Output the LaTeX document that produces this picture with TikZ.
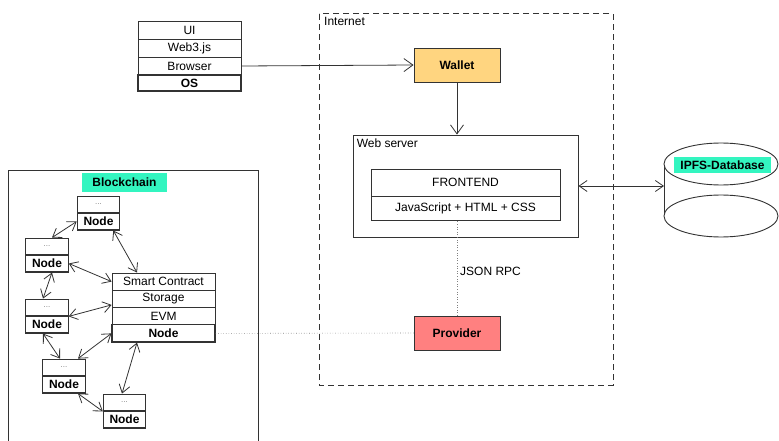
\documentclass[tikz,border=0pt]{standalone}
\usepackage{fontspec}
\setmainfont{Liberation Sans}
\usetikzlibrary{arrows.meta}

\definecolor{edge}{HTML}{333333}
\definecolor{walletfill}{HTML}{FFD580}
\definecolor{providerfill}{HTML}{FF8080}
\definecolor{tagfill}{HTML}{33F5C0}

\tikzset{
  txt/.style={font=\fontsize{12}{14}\selectfont},
  cell/.style={draw=edge, line width=0.8pt, inner sep=0pt, minimum width=103pt, minimum height=18pt, txt},
  cellbold/.style={cell, line width=1.1pt, font=\fontsize{12}{14}\selectfont\bfseries},
  small/.style={cell, minimum width=42.5pt, minimum height=17pt, font=\fontsize{8}{10}\selectfont, text=gray},
  smallbold/.style={cellbold, minimum width=42.5pt, minimum height=17pt},
  actor/.style={draw=edge, line width=0.9pt, minimum width=86pt, minimum height=34pt, font=\fontsize{12}{14}\selectfont\bfseries},
  tag/.style={fill=tagfill, inner sep=0pt, font=\fontsize{12}{14}\selectfont\bfseries},
  open/.style={draw=edge, line width=0.8pt, -{Straight Barb[length=9pt,width=13pt]}},
  both/.style={draw=edge, line width=0.8pt, {Straight Barb[length=8pt,width=11pt]}-{Straight Barb[length=8pt,width=11pt]}},
  rpc/.style={draw=gray, line width=0.6pt, dotted}
}

\begin{document}
\begin{tikzpicture}[x=1pt, y=-1pt]
\useasboundingbox (0,0) rectangle (779,441);
\clip (0,0) rectangle (779,441);

% client stack
\node[cell] (ui) at (189.5,30) {UI};
\node[cell] (web3) at (189.5,48) {Web3.js};
\node[cell] (browser) at (189.5,66) {Browser};
\node[cellbold, minimum height=16pt] (os) at (189.5,83) {OS};

% internet
\draw[edge, line width=1pt, dash pattern=on 6pt off 4pt] (319,14) rectangle (613,385);
\node[txt, anchor=north west, inner sep=2pt] (internet) at (322,15) {Internet};

\node[actor, fill=walletfill] (wallet) at (457,65) {Wallet};
\draw[open] (browser.east) -- (wallet.west);

\node[draw=edge, line width=0.9pt, minimum width=225pt, minimum height=102pt] (web) at (465.5,186) {};
\node[txt, anchor=north west, inner sep=4pt] (weblabel) at (web.north west) {Web server};
\draw[open] (wallet.south) -- (wallet.south |- web.north);

\node[cell, minimum width=189pt, minimum height=27pt] (front) at (465.5,182.5) {FRONTEND};
\node[cell, minimum width=189pt, minimum height=24pt] (js) at (465.5,208) {JavaScript + HTML + CSS};

\node[actor, fill=providerfill] (prov) at (457,333) {Provider};
\draw[rpc] (prov.north) -- (prov.north |- js.south);
\node[txt, anchor=west, inner sep=0pt] (json) at (460,271) {JSON RPC};

% ipfs
\draw[edge, line width=0.9pt] (664,164) -- (664,216);
\draw[edge, line width=0.9pt, fill=white] (721,216) ellipse [x radius=57, y radius=21];
\draw[edge, line width=0.9pt, fill=white] (721,164) ellipse [x radius=57, y radius=21];
\node[tag, minimum width=97pt, minimum height=16pt] (ipfs) at (722.5,165) {IPFS-Database};
\coordinate (ipfsw) at (664,186);
\draw[both] (web.east) -- (ipfsw);

% blockchain
\draw[edge, line width=0.9pt] (8,450) -- (8,170) -- (258,170) -- (258,450);
\node[tag, minimum width=85pt, minimum height=19pt] (chain) at (124.5,182.5) {Blockchain};

\node[cell, minimum height=17.25pt] (sc1) at (163.5,281.6) {Smart Contract};
\node[cell, minimum height=17.25pt] (sc2) at (163.5,298.9) {Storage};
\node[cell, minimum height=17.25pt] (sc3) at (163.5,316.1) {EVM};
\node[cellbold, minimum height=17.25pt] (sc4) at (163.5,333.4) {Node};

\foreach \n/\x/\y in {1/98.5/204.5, 2/47/246.5, 3/47/307.5, 4/64/367.5, 5/124.5/402.5} {
  \node[small] (dots\n) at (\x,\y) {...};
  \node[smallbold] (node\n) at (\x,\y+17) {Node};
}

\draw[both] (node1.west) -- ([xshift=5pt]dots2.north);
\draw[both] ([xshift=-7pt]node1.south east) -- ([xshift=-26.5pt]sc1.north);
\draw[both] (node2.east) -- (sc1.west);
\draw[both] ([xshift=5pt]node2.south) -- ([xshift=-4pt]dots3.north);
\draw[both] (dots3.south east) -- ([yshift=-6pt]sc2.west);
\draw[both] ([xshift=-4pt]node3.south) -- ([xshift=-4pt]dots4.north);
\draw[both] ([xshift=14pt]dots4.north) -- (sc4.west);
\draw[both] ([xshift=14pt]node4.south) -- (dots5.south west);
\draw[both] ([xshift=-2.5pt]dots5.north) -- ([xshift=-26.5pt]sc4.south);

\draw[rpc] (sc4.east) -- (prov.west);
\end{tikzpicture}
\end{document}
